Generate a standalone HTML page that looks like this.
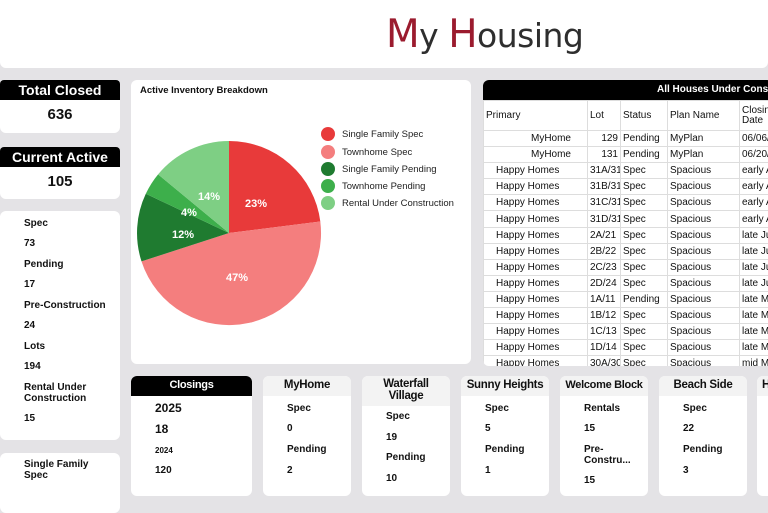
<!DOCTYPE html>
<html><head><meta charset="utf-8"><style>
*{margin:0;padding:0;box-sizing:border-box}
body{width:768px;height:487px;overflow:hidden;background:#e4e3e6;font-family:"Liberation Sans",Arial,sans-serif;position:relative;color:#111}
.a{position:absolute}
.w{position:absolute;background:#fff;border-radius:6px}
.bk{position:absolute;background:#000;color:#fff;font-weight:bold;text-align:center}
.t{position:absolute;font-size:10px;font-weight:bold;white-space:nowrap}
table{border-collapse:collapse;font-size:10px}
td{border:1px solid #ddd;height:16.1px;padding:0 2px;white-space:nowrap;overflow:hidden}
.card{position:absolute;top:376px;height:120px;background:#fff;border-radius:6px}
.card .h{background:#f3f3f3;height:20px;text-align:center;font-weight:bold;font-size:11.5px;padding-top:3px;border-radius:6px 6px 0 0;white-space:nowrap;letter-spacing:-0.3px}
</style></head><body>
<div class="w" style="left:0;top:0;width:768px;height:68px;border-radius:0 0 6px 6px"></div>
<div class="a" style="left:386px;top:12px;font-size:33px;color:#2e2e2e;font-family:'DejaVu Sans',sans-serif;letter-spacing:-0.5px"><span style="color:#9b1b2e;font-size:39px">M</span>y <span style="color:#9b1b2e;font-size:39px">H</span>ousing</div>

<div class="w" style="left:0;top:80px;width:120px;height:53px"></div>
<div class="bk" style="left:0;top:80px;width:120px;height:20px;font-size:14px;padding-top:2px;border-radius:4px 4px 0 0">Total Closed</div>
<div class="a" style="left:0;top:106px;width:120px;text-align:center;font-weight:bold;font-size:15px">636</div>
<div class="w" style="left:0;top:147px;width:120px;height:52px"></div>
<div class="bk" style="left:0;top:147px;width:120px;height:20px;font-size:14px;padding-top:2px;border-radius:4px 4px 0 0">Current Active</div>
<div class="a" style="left:0;top:173px;width:120px;text-align:center;font-weight:bold;font-size:15px">105</div>

<div class="w" style="left:0;top:211px;width:120px;height:229px"></div>
<div class="t" style="left:24px;top:218px">Spec</div>
<div class="t" style="left:24px;top:238px">73</div>
<div class="t" style="left:24px;top:259px">Pending</div>
<div class="t" style="left:24px;top:279px">17</div>
<div class="t" style="left:24px;top:300px">Pre-Construction</div>
<div class="t" style="left:24px;top:320px">24</div>
<div class="t" style="left:24px;top:341px">Lots</div>
<div class="t" style="left:24px;top:361px">194</div>
<div class="t" style="left:24px;top:382px;line-height:11px">Rental Under<br>Construction</div>
<div class="t" style="left:24px;top:413px">15</div>
<div class="w" style="left:0;top:453px;width:120px;height:60px"></div>
<div class="t" style="left:24px;top:459px;line-height:11px">Single Family<br>Spec</div>

<div class="w" style="left:131px;top:80px;width:340px;height:284px"></div>
<div class="t" style="left:140px;top:85px;font-size:9.5px">Active Inventory Breakdown</div>
<svg class="a" style="left:0;top:0" width="768" height="487">
<path d="M229,233 L229,141 A92,92 0 0 1 320.3,221.5Z" fill="#e83a3a"/>
<path d="M229,233 L320.3,221.5 A92,92 0 0 1 141.5,261.4Z" fill="#f47e7e"/>
<path d="M229,233 L141.5,261.4 A92,92 0 0 1 145.8,193.8Z" fill="#1f7b30"/>
<path d="M229,233 L145.8,193.8 A92,92 0 0 1 158.1,174.4Z" fill="#3daf4b"/>
<path d="M229,233 L158.1,174.4 A92,92 0 0 1 229,141Z" fill="#7ecf84"/>
<g fill="#fff" font-size="11" font-weight="bold" text-anchor="middle" font-family="Liberation Sans,sans-serif">
<text x="256" y="207">23%</text><text x="237" y="281">47%</text><text x="183" y="238">12%</text><text x="189" y="216">4%</text><text x="209" y="200">14%</text></g>
<g font-size="9.5" font-family="Liberation Sans,sans-serif" fill="#222">
<circle cx="328" cy="134" r="7" fill="#e83a3a"/><text x="342" y="137">Single Family Spec</text>
<circle cx="328" cy="152" r="7" fill="#f47e7e"/><text x="342" y="155">Townhome Spec</text>
<circle cx="328" cy="169" r="7" fill="#1f7b30"/><text x="342" y="172">Single Family Pending</text>
<circle cx="328" cy="186" r="7" fill="#3daf4b"/><text x="342" y="189">Townhome Pending</text>
<circle cx="328" cy="203" r="7" fill="#7ecf84"/><text x="342" y="206">Rental Under Construction</text></g>
</svg>

<div class="w" style="left:483px;top:80px;width:290px;height:286px;overflow:hidden">
<div class="bk" style="left:0;top:0;width:290px;height:20px;font-size:10px;padding:4px 0 0 174px;text-align:left;white-space:nowrap">All Houses Under Construction</div>
<table class="a" style="left:0;top:20px;width:300px;table-layout:fixed">
<colgroup><col style="width:104px"><col style="width:33px"><col style="width:47px"><col style="width:72px"><col style="width:44px"></colgroup>
<tr style="height:30px"><td style="height:30px">Primary</td><td>Lot</td><td>Status</td><td>Plan Name</td><td style="line-height:10px">Closing<br>Date</td></tr>
<tr><td style="text-align:right;padding-right:16px">MyHome</td><td style="text-align:right">129</td><td>Pending</td><td>MyPlan</td><td>06/06/25</td></tr>
<tr><td style="text-align:right;padding-right:16px">MyHome</td><td style="text-align:right">131</td><td>Pending</td><td>MyPlan</td><td>06/20/25</td></tr>
<tr><td style="padding-left:12px">Happy Homes</td><td>31A/31</td><td>Spec</td><td>Spacious</td><td>early Aug</td></tr>
<tr><td style="padding-left:12px">Happy Homes</td><td>31B/31</td><td>Spec</td><td>Spacious</td><td>early Aug</td></tr>
<tr><td style="padding-left:12px">Happy Homes</td><td>31C/31</td><td>Spec</td><td>Spacious</td><td>early Aug</td></tr>
<tr><td style="padding-left:12px">Happy Homes</td><td>31D/31</td><td>Spec</td><td>Spacious</td><td>early Aug</td></tr>
<tr><td style="padding-left:12px">Happy Homes</td><td>2A/21</td><td>Spec</td><td>Spacious</td><td>late Jul</td></tr>
<tr><td style="padding-left:12px">Happy Homes</td><td>2B/22</td><td>Spec</td><td>Spacious</td><td>late Jul</td></tr>
<tr><td style="padding-left:12px">Happy Homes</td><td>2C/23</td><td>Spec</td><td>Spacious</td><td>late Jul</td></tr>
<tr><td style="padding-left:12px">Happy Homes</td><td>2D/24</td><td>Spec</td><td>Spacious</td><td>late Jul</td></tr>
<tr><td style="padding-left:12px">Happy Homes</td><td>1A/11</td><td>Pending</td><td>Spacious</td><td>late Mar</td></tr>
<tr><td style="padding-left:12px">Happy Homes</td><td>1B/12</td><td>Spec</td><td>Spacious</td><td>late Mar</td></tr>
<tr><td style="padding-left:12px">Happy Homes</td><td>1C/13</td><td>Spec</td><td>Spacious</td><td>late Mar</td></tr>
<tr><td style="padding-left:12px">Happy Homes</td><td>1D/14</td><td>Spec</td><td>Spacious</td><td>late Mar</td></tr>
<tr><td style="padding-left:12px">Happy Homes</td><td>30A/30</td><td>Spec</td><td>Spacious</td><td>mid Mar</td></tr>
</table></div>

<div class="card" style="left:131px;width:121px"><div class="h" style="background:#000;color:#fff;font-size:11px">Closings</div></div>
<div class="t" style="left:155px;top:401px;font-size:12px">2025</div>
<div class="t" style="left:155px;top:422px;font-size:12px">18</div>
<div class="t" style="left:155px;top:446px;font-size:8px">2024</div>
<div class="t" style="left:155px;top:465px">120</div>

<div class="card" style="left:263px;width:88px"><div class="h">MyHome</div></div>
<div class="t" style="left:287px;top:403px">Spec</div><div class="t" style="left:287px;top:423px">0</div>
<div class="t" style="left:287px;top:444px">Pending</div><div class="t" style="left:287px;top:465px">2</div>

<div class="card" style="left:362px;width:88px"><div class="h" style="height:30px;line-height:12px;padding-top:2px">Waterfall<br>Village</div></div>
<div class="t" style="left:386px;top:411px">Spec</div><div class="t" style="left:386px;top:432px">19</div>
<div class="t" style="left:386px;top:452px">Pending</div><div class="t" style="left:386px;top:473px">10</div>

<div class="card" style="left:461px;width:88px"><div class="h">Sunny Heights</div></div>
<div class="t" style="left:485px;top:403px">Spec</div><div class="t" style="left:485px;top:423px">5</div>
<div class="t" style="left:485px;top:444px">Pending</div><div class="t" style="left:485px;top:465px">1</div>

<div class="card" style="left:560px;width:88px"><div class="h" style="font-size:11px">Welcome Block</div></div>
<div class="t" style="left:584px;top:403px">Rentals</div><div class="t" style="left:584px;top:423px">15</div>
<div class="t" style="left:584px;top:444px;line-height:11px">Pre-<br>Constru...</div><div class="t" style="left:584px;top:475px">15</div>

<div class="card" style="left:659px;width:88px"><div class="h">Beach Side</div></div>
<div class="t" style="left:683px;top:403px">Spec</div><div class="t" style="left:683px;top:423px">22</div>
<div class="t" style="left:683px;top:444px">Pending</div><div class="t" style="left:683px;top:465px">3</div>

<div class="card" style="left:757px;width:40px"><div class="h" style="text-align:left;padding-left:5px">H</div></div>
</body></html>
